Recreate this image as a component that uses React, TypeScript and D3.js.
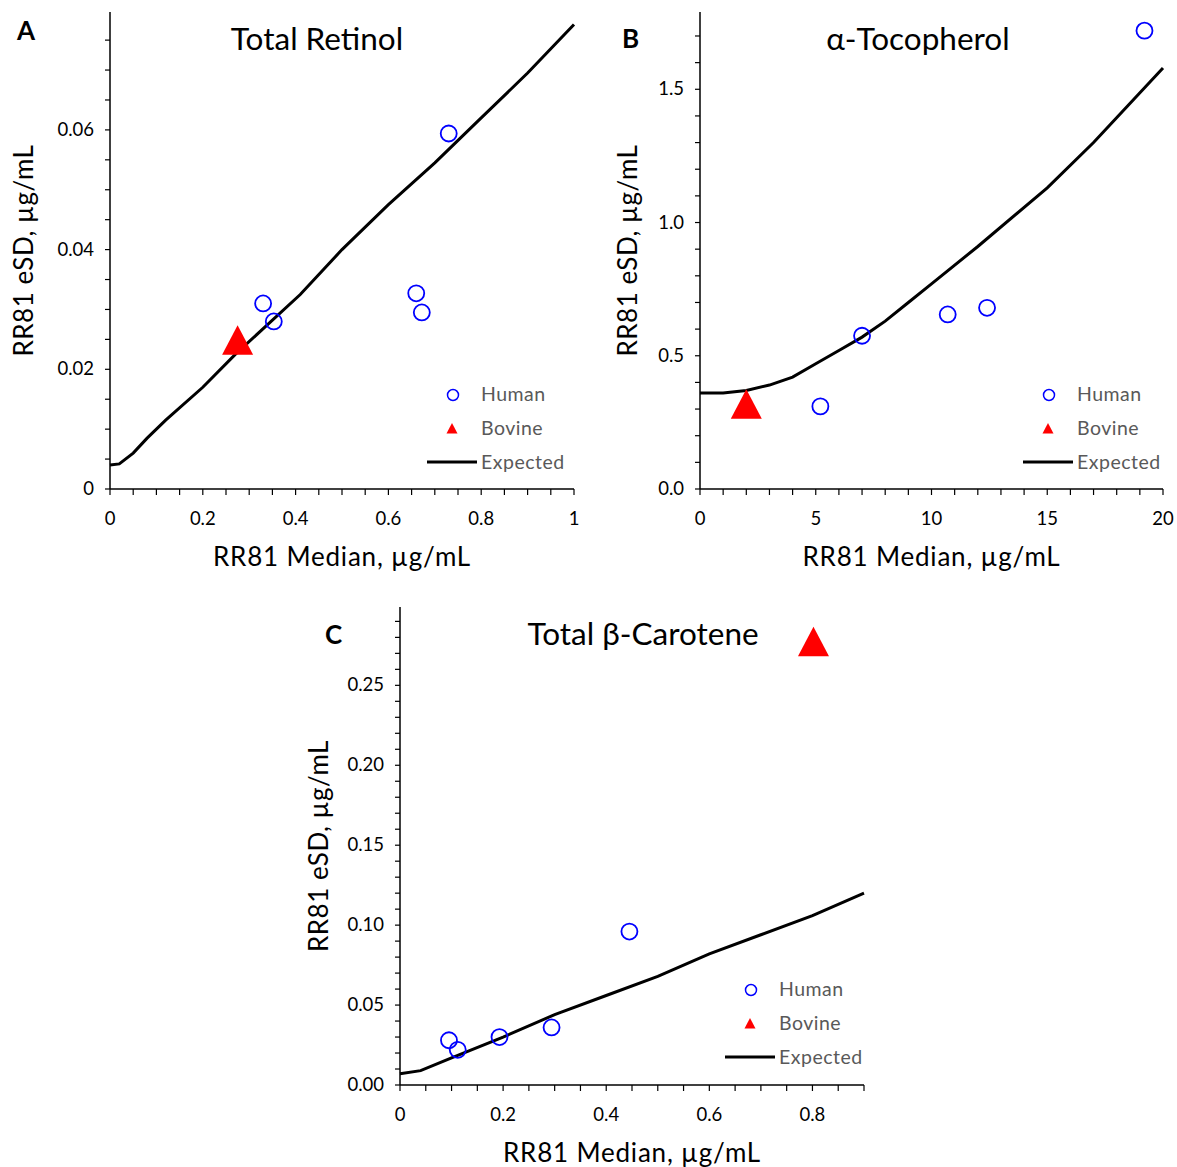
import React from "react";
import * as d3 from "d3";

const retinolHuman = [[0.33, 0.031], [0.353, 0.028], [0.66, 0.0327], [0.672, 0.0295], [0.73, 0.0594]];
const retinolBovine = [[0.275, 0.0245]];
const retinolExpected = [[0, 0.004], [0.02, 0.0042], [0.05, 0.006], [0.08, 0.0085], [0.12, 0.0115], [0.2, 0.017], [0.27, 0.0225], [0.41, 0.0325], [0.5, 0.04], [0.6, 0.0475], [0.7, 0.0545], [0.8, 0.062], [0.9, 0.0695], [1.0, 0.0776]];

const tocoHuman = [[5.2, 0.31], [7.0, 0.575], [10.7, 0.655], [12.4, 0.68], [19.2, 1.72]];
const tocoBovine = [[2.0, 0.31]];
const tocoExpected = [[0, 0.36], [1, 0.36], [2, 0.37], [3, 0.39], [4, 0.42], [5, 0.47], [6, 0.52], [7, 0.57], [8, 0.63], [9, 0.7], [10, 0.77], [12, 0.91], [15, 1.13], [17, 1.3], [20, 1.58]];

const caroHuman = [[0.095, 0.028], [0.112, 0.022], [0.193, 0.03], [0.294, 0.036], [0.445, 0.096]];
const caroBovine = [[0.802, 0.276]];
const caroExpected = [[0, 0.007], [0.04, 0.009], [0.1, 0.017], [0.2, 0.03], [0.3, 0.044], [0.4, 0.056], [0.5, 0.068], [0.6, 0.082], [0.7, 0.094], [0.8, 0.106], [0.9, 0.12]];

const FONT = "Lato, 'Open Sans', sans-serif";

type P = {
  letter: string; title: string; left: number; right: number; top: number; bottom: number;
  xMax: number; yMax: number; xTicks: number[]; xMinor: number; yTicks: number[]; yMinor: number;
  xFmt: (v: number) => string; yFmt: (v: number) => string;
  human: number[][]; bovine: number[][]; expected: number[][];
  letterPos: [number, number]; titleX: number; titleY: number; yTitleX: number; xTitleY: number;
  legX: number; legY: number;
};

function Panel(p: P) {
  const x = d3.scaleLinear().domain([0, p.xMax]).range([p.left, p.right]);
  const y = d3.scaleLinear().domain([0, p.yMax]).range([p.bottom, p.top]);
  const line = d3.line<number[]>().x(d => x(d[0])).y(d => y(d[1]));
  const xm = d3.range(0, p.xMax + 1e-9, p.xMinor);
  const ym = d3.range(0, p.yMax + 1e-9, p.yMinor);
  const tri = (cx: number, cy: number, w: number) => `M${cx},${cy - w * 0.55}L${cx + w / 2},${cy + w * 0.4}L${cx - w / 2},${cy + w * 0.4}Z`;
  return (
    <g fontFamily={FONT}>
      <line x1={p.left} x2={p.left} y1={p.top} y2={p.bottom} stroke="#000" strokeWidth={1.5} />
      <line x1={p.left} x2={p.right} y1={p.bottom} y2={p.bottom} stroke="#000" strokeWidth={1.5} />
      {xm.map((v, i) => <line key={"xm" + i} x1={x(v)} x2={x(v)} y1={p.bottom} y2={p.bottom + 6} stroke="#000" strokeWidth={1.2} />)}
      {ym.map((v, i) => <line key={"ym" + i} x1={p.left - 5} x2={p.left} y1={y(v)} y2={y(v)} stroke="#000" strokeWidth={1.2} />)}
      {p.xTicks.map(v => <text key={"xt" + v} x={x(v)} y={p.bottom + 36} textAnchor="middle" fontSize={18.5}>{p.xFmt(v)}</text>)}
      {p.yTicks.map(v => <text key={"yt" + v} x={p.left - 16} y={y(v) + 6} textAnchor="end" fontSize={18.5}>{p.yFmt(v)}</text>)}
      <path d={line(p.expected) || ""} fill="none" stroke="#000" strokeWidth={3} />
      {p.human.map((d, i) => <circle key={"h" + i} cx={x(d[0])} cy={y(d[1])} r={8} fill="none" stroke="#0000ff" strokeWidth={1.8} />)}
      {p.bovine.map((d, i) => <path key={"b" + i} d={tri(x(d[0]), y(d[1]), 31)} fill="#ff0000" />)}
      <text x={p.letterPos[0]} y={p.letterPos[1]} fontSize={26} fontWeight="bold">{p.letter}</text>
      <text x={p.titleX} y={p.titleY} textAnchor="middle" fontSize={31.5}>{p.title}</text>
      <text x={(p.left + p.right) / 2} y={p.xTitleY} textAnchor="middle" fontSize={26} letterSpacing={0.8}>RR81 Median, µg/mL</text>
      <text transform={`translate(${p.yTitleX},${(p.top + p.bottom) / 2}) rotate(-90)`} textAnchor="middle" fontSize={26} letterSpacing={0.5}>RR81 eSD, µg/mL</text>
      <circle cx={p.legX} cy={p.legY} r={5.5} fill="none" stroke="#0000ff" strokeWidth={1.5} />
      <path d={tri(p.legX - 1, p.legY + 34, 11)} fill="#ff0000" />
      <line x1={p.legX - 26} x2={p.legX + 24} y1={p.legY + 67} y2={p.legY + 67} stroke="#000" strokeWidth={3} />
      {["Human", "Bovine", "Expected"].map((t, i) => (
        <text key={t} x={p.legX + 28} y={p.legY + 6 + i * 34} fontSize={19.5} fill="#595959" letterSpacing={0.5}>{t}</text>
      ))}
    </g>
  );
}

export default function App() {
  return (
    <svg width={1177} height={1167} style={{ position: "absolute", left: 0, top: 0, background: "#fff" }}>
      <rect width={1177} height={1167} fill="#fff" />
      <Panel letter="A" title="Total Retinol" left={110} right={574} top={12} bottom={489}
        xMax={1} yMax={0.0797} xTicks={[0, 0.2, 0.4, 0.6, 0.8, 1]} xMinor={0.05}
        yTicks={[0, 0.02, 0.04, 0.06]} yMinor={0.005}
        xFmt={v => (v === 0 || v === 1 ? String(v) : v.toFixed(1))} yFmt={v => (v === 0 ? "0" : v.toFixed(2))}
        human={retinolHuman} bovine={retinolBovine} expected={retinolExpected}
        letterPos={[17, 40]} titleX={317} titleY={50} yTitleX={33} xTitleY={566} legX={453} legY={395} />
      <Panel letter="B" title="α-Tocopherol" left={700} right={1163} top={12} bottom={489}
        xMax={20} yMax={1.79} xTicks={[0, 5, 10, 15, 20]} xMinor={1}
        yTicks={[0, 0.5, 1, 1.5]} yMinor={0.1}
        xFmt={v => String(v)} yFmt={v => v.toFixed(1)}
        human={tocoHuman} bovine={tocoBovine} expected={tocoExpected}
        letterPos={[622, 48]} titleX={918} titleY={50} yTitleX={637} xTitleY={566} legX={1049} legY={395} />
      <Panel letter="C" title="Total β-Carotene" left={400} right={864} top={607} bottom={1085}
        xMax={0.9} yMax={0.299} xTicks={[0, 0.2, 0.4, 0.6, 0.8]} xMinor={0.05}
        yTicks={[0, 0.05, 0.1, 0.15, 0.2, 0.25]} yMinor={0.01}
        xFmt={v => (v === 0 ? "0" : v.toFixed(1))} yFmt={v => v.toFixed(2)}
        human={caroHuman} bovine={caroBovine} expected={caroExpected}
        letterPos={[325, 644]} titleX={643} titleY={645} yTitleX={328} xTitleY={1162} legX={751} legY={990} />
    </svg>
  );
}
